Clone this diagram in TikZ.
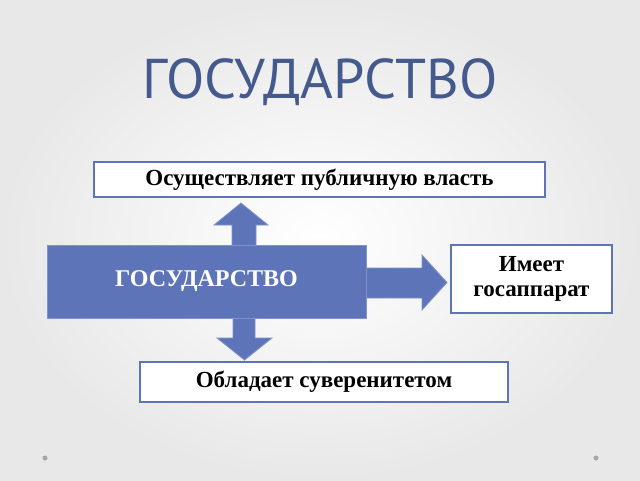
\documentclass[tikz,border=0pt]{standalone}
\usepackage{fontspec}
\setmainfont{Liberation Serif}
\newfontfamily\titlefont{PT Sans}
\definecolor{blu}{HTML}{5D74B9}
\definecolor{edg}{HTML}{8093CC}
\definecolor{ttl}{HTML}{44598C}
\begin{document}
\begin{tikzpicture}[x=1pt,y=-1pt,
  wbox/.style={draw=blu,line width=2.5pt,fill=white,inner sep=0pt,font=\bfseries\fontsize{23}{25}\selectfont,align=center},
  arr/.style={fill=blu,draw=edg,line width=0.8pt}]
\useasboundingbox (0,0) rectangle (640,480);
\shade[inner color=white,outer color=gray!18] (0,0) rectangle (640,480);
\node[font=\titlefont\fontsize{56}{60}\selectfont,text=ttl] (title) at (320,82) {ГОСУДАРСТВО};
\node[wbox,minimum width=451pt,minimum height=35pt] (top) at (319.5,179.5) {Осуществляет публичную власть};
\node[wbox,minimum width=161pt,minimum height=68pt] (right) at (531.5,279) {Имеет\\госаппарат};
\node[wbox,minimum width=368pt,minimum height=40pt] (bot) at (324,382) {Обладает суверенитетом};
% arrows
\draw[arr] (232,246) -- (232,225) -- (214,225) -- (241,203) -- (268,225) -- (256,225) -- (256,246) -- cycle;
\draw[arr] (233,317) -- (233,338) -- (217,338) -- (244.5,360) -- (272,338) -- (255,338) -- (255,317) -- cycle;
\draw[arr] (365,268) -- (422,268) -- (422,255) -- (447,282.5) -- (422,310) -- (422,298) -- (365,298) -- cycle;
\node[fill=blu,draw=edg,line width=0.8pt,minimum width=319pt,minimum height=73pt,text=white,font=\bfseries\fontsize{24}{26}\selectfont] (main) at (206.5,281.5) {ГОСУДАРСТВО};
\fill[gray!70] (45,458) circle (2.5pt) (596,458) circle (2.5pt);
\end{tikzpicture}
\end{document}
